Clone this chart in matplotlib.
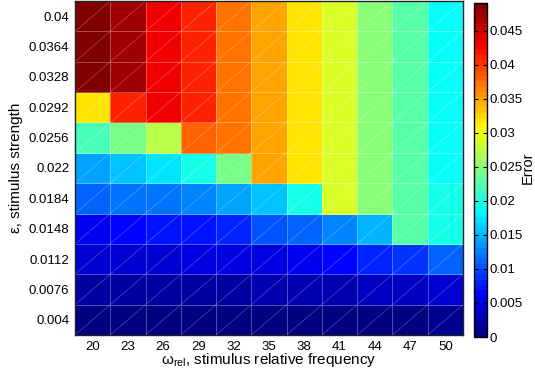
import numpy as np
import matplotlib
matplotlib.use("Agg")
import matplotlib.pyplot as plt
from matplotlib.colors import ListedColormap
from matplotlib.collections import LineCollection

plt.rcParams['font.family'] = ['Liberation Sans', 'DejaVu Sans']
plt.rcParams['mathtext.fontset'] = 'custom'
plt.rcParams['mathtext.rm'] = 'Liberation Sans'
plt.rcParams['mathtext.it'] = 'Liberation Sans:italic'

# ---- data ----
omega = [20, 23, 26, 29, 32, 35, 38, 41, 44, 47, 50]
eps_labels = ['0.004', '0.0076', '0.0112', '0.0148', '0.0184', '0.022',
              '0.0256', '0.0292', '0.0328', '0.0364', '0.04']
# rows listed from eps = 0.004 (bottom) to eps = 0.04 (top)
err_0004 = [0.0004, 0.0004, 0.0004, 0.0005, 0.0005, 0.0005, 0.0005, 0.0006, 0.0006, 0.0007, 0.0008]
err_0076 = [0.0020, 0.0021, 0.0021, 0.0022, 0.0023, 0.0024, 0.0025, 0.0027, 0.0031, 0.0037, 0.0043]
err_0112 = [0.0039, 0.0044, 0.0046, 0.0047, 0.0048, 0.0053, 0.0061, 0.0069, 0.0080, 0.0085, 0.0115]
err_0148 = [0.0061, 0.0068, 0.0071, 0.0074, 0.0084, 0.0102, 0.0113, 0.0130, 0.0153, 0.0224, 0.0196]
err_0184 = [0.0113, 0.0119, 0.0120, 0.0123, 0.0140, 0.0159, 0.0196, 0.0284, 0.0252, 0.0224, 0.0196]
err_0220 = [0.0143, 0.0159, 0.0175, 0.0198, 0.0238, 0.0347, 0.0315, 0.0284, 0.0252, 0.0224, 0.0191]
err_0256 = [0.0217, 0.0238, 0.0276, 0.0376, 0.0375, 0.0347, 0.0315, 0.0284, 0.0252, 0.0224, 0.0191]
err_0292 = [0.0322, 0.0414, 0.0437, 0.0409, 0.0375, 0.0347, 0.0315, 0.0284, 0.0252, 0.0224, 0.0191]
err_0328 = [0.0491, 0.0470, 0.0437, 0.0409, 0.0375, 0.0347, 0.0315, 0.0284, 0.0252, 0.0224, 0.0191]
err_0364 = [0.0491, 0.0470, 0.0437, 0.0409, 0.0375, 0.0347, 0.0315, 0.0284, 0.0252, 0.0224, 0.0191]
err_0400 = [0.0491, 0.0470, 0.0437, 0.0409, 0.0375, 0.0347, 0.0315, 0.0284, 0.0252, 0.0224, 0.0191]
cbar_ticks = [0, 0.005, 0.01, 0.015, 0.02, 0.025, 0.03, 0.035, 0.04, 0.045]

Z = np.array([err_0004, err_0076, err_0112, err_0148, err_0184, err_0220,
              err_0256, err_0292, err_0328, err_0364, err_0400])

# MATLAB-style jet(64)
x = np.linspace(0, 1, 64)
r = np.clip(np.minimum(4 * x - 1.5, -4 * x + 4.5), 0, 1)
g = np.clip(np.minimum(4 * x - 0.5, -4 * x + 3.5), 0, 1)
b = np.clip(np.minimum(4 * x + 0.5, -4 * x + 2.5), 0, 1)
cmap = ListedColormap(np.column_stack([r, g, b]))

fig = plt.figure(figsize=(5.35, 3.75), dpi=100)
ax = fig.add_axes([75 / 535, 40 / 375, 388 / 535, 334 / 375])
nx, ny = len(omega), len(eps_labels)
xe = np.arange(nx + 1)
ye = np.arange(ny + 1)
mesh = ax.pcolormesh(xe, ye, Z, cmap=cmap, vmin=0, vmax=Z.max(),
                     edgecolors=(1, 1, 1, 0.3), linewidth=0.6)
# diagonal artifact lines of each cell
segs = [[(i, j), (i + 1, j + 1)] for i in range(nx) for j in range(ny)]
ax.add_collection(LineCollection(segs, colors=[(1, 1, 1, 0.3)], linewidths=0.5))
ax.set_xlim(0, nx)
ax.set_ylim(0, ny)
ax.set_xticks(np.arange(nx) + 0.5)
ax.set_xticklabels([str(v) for v in omega])
ax.set_yticks(np.arange(ny) + 0.5)
ax.set_yticklabels(eps_labels)
ax.tick_params(length=0, labelsize=9.5, pad=4)
for s in ax.spines.values():
    s.set_linewidth(1.0)
    s.set_color('#222222')
ax.set_xlabel(r'ω$_{\rm rel}$, stimulus relative frequency', fontsize=11, labelpad=-1)
ax.set_ylabel('ε, stimulus strength', fontsize=11, labelpad=4)

cax = fig.add_axes([474 / 535, 38 / 375, 13 / 535, 334 / 375])
cb = fig.colorbar(mesh, cax=cax)
cb.set_ticks(cbar_ticks)
cb.set_ticklabels(['0', '0.005', '0.01', '0.015', '0.02', '0.025', '0.03', '0.035', '0.04', '0.045'])
cax.tick_params(direction='in', length=3, width=0.8, labelsize=9.5, pad=2, left=True, right=True)
cb.outline.set_linewidth(1.0)
fig.text(521 / 535, 0.552, 'Error', rotation=90, ha='left', va='center', fontsize=10.5)

fig.savefig('out.png', dpi=100)
